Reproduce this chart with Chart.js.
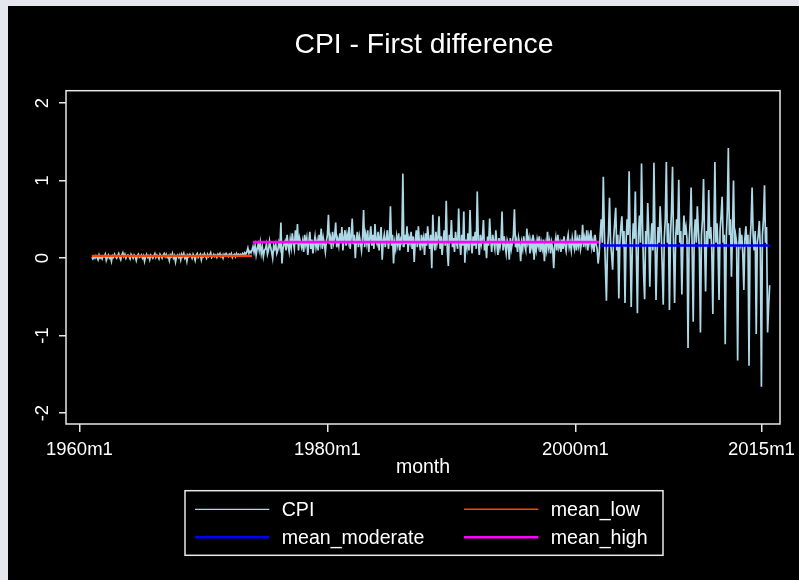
<!DOCTYPE html>
<html>
<head>
<meta charset="utf-8">
<script src="https://cdn.jsdelivr.net/npm/chart.js"></script>
<style>
  html, body { margin: 0; padding: 0; background: #e6e6ef; }
  #wrap { position: absolute; left: 8px; top: 6px; width: 791px; height: 574px; background: #000; }
</style>
</head>
<body>
<div id="wrap"><canvas id="cpiChart" width="791" height="574"></canvas></div>
<script>
// monthly first difference of CPI, one row per year, starting 1961m1
const firstMonth = '1961m1';
const cpiDiff = [
  0.01, -0.01, 0.02, 0.0, 0.03, 0.01, -0.02, 0.04, 0.0, 0.02, -0.01, 0.03,
  0.02, 0.05, -0.03, 0.01, 0.04, 0.0, 0.02, -0.04, 0.03, 0.01, 0.05, 0.02,
  0.0, 0.03, 0.06, 0.01, -0.02, 0.04, 0.07, 0.02, 0.05, 0.0, 0.03, 0.04,
  0.02, -0.01, 0.05, 0.03, 0.0, 0.04, 0.02, -0.03, 0.03, 0.05, 0.01, 0.02,
  0.04, 0.0, 0.03, -0.04, 0.02, 0.05, 0.01, 0.03, -0.02, 0.04, 0.02, 0.0,
  0.03, 0.06, 0.01, 0.04, 0.02, -0.01, 0.05, 0.03, 0.0, 0.04, 0.06, 0.02,
  0.05, 0.01, 0.03, -0.03, 0.04, 0.02, 0.06, 0.0, 0.03, -0.05, 0.02, 0.04,
  0.01, 0.04, -0.02, 0.05, 0.02, 0.06, 0.0, 0.03, -0.04, 0.04, 0.02, 0.05,
  0.03, 0.0, 0.05, 0.02, -0.03, 0.04, 0.06, 0.01, 0.03, 0.05, -0.02, 0.04,
  0.02, 0.06, 0.03, 0.0, 0.05, 0.02, 0.04, 0.07, 0.01, 0.03, 0.05, 0.02,
  0.04, 0.01, 0.05, 0.03, 0.06, 0.02, 0.04, 0.0, 0.05, 0.03, 0.06, 0.04,
  0.02, 0.05, 0.03, 0.06, 0.01, 0.04, 0.05, 0.02, 0.06, 0.03, 0.05, 0.04,
  0.05, 0.03, 0.06, 0.04, 0.07, 0.05, 0.08, 0.13, 0.06, 0.09, 0.07, 0.1,
  0.15, 0.08, 0.16, 0.04, 0.12, 0.18, 0.1, 0.2, 0.06, 0.14, 0.02, 0.1,
  0.12, 0.18, 0.05, 0.1, 0.22, 0.14, 0.08, 0.0, 0.16, 0.12, 0.18, 0.06,
  0.1, 0.2, 0.14, 0.46, -0.07, 0.12, 0.18, 0.22, 0.1, 0.3, 0.16, 0.08,
  0.24, 0.14, 0.32, 0.2, 0.12, 0.36, 0.18, 0.44, 0.1, 0.26, 0.2, 0.14,
  0.22, 0.08, 0.3, 0.18, 0.26, 0.04, 0.2, 0.34, 0.12, 0.24, 0.06, 0.18,
  0.28, 0.14, 0.22, 0.1, 0.3, 0.2, 0.38, 0.12, 0.26, 0.18, 0.08, 0.22,
  0.3, 0.56, 0.18, 0.26, 0.12, 0.34, 0.2, 0.28, 0.46, 0.14, 0.24, 0.16,
  0.32, 0.2, 0.4, 0.1, 0.26, 0.36, 0.16, 0.3, 0.22, 0.4, 0.12, 0.28,
  0.51, 0.18, 0.3, 0.0, 0.24, 0.34, 0.14, 0.28, 0.2, 0.1, 0.26, 0.62,
  0.14, 0.3, 0.2, 0.36, 0.08, 0.26, 0.41, 0.16, 0.3, 0.12, 0.44, 0.22,
  0.18, 0.34, 0.1, 0.28, 0.4, -0.02, 0.22, 0.3, 0.14, 0.26, 0.36, 0.12,
  0.24, 0.67, 0.16, 0.3, -0.07, 0.2, 0.12, 0.28, 0.18, 0.32, 0.1, 0.24,
  0.2, 1.09, 0.14, 0.3, 0.18, 0.41, 0.08, 0.26, 0.2, 0.34, 0.12, 0.28,
  -0.05, 0.22, 0.36, 0.14, 0.41, 0.2, 0.1, 0.3, 0.18, 0.26, 0.04, 0.32,
  0.16, 0.41, 0.24, 0.12, 0.3, -0.13, 0.56, 0.2, 0.1, 0.34, 0.18, 0.26,
  0.54, 0.12, 0.28, 0.04, 0.22, 0.36, 0.16, 0.74, 0.1, -0.1, 0.3, 0.2,
  0.49, 0.14, 0.26, 0.08, 0.34, 0.2, 0.12, 0.64, 0.22, 0.04, 0.3, 0.16,
  0.6, -0.06, 0.24, 0.14, 0.32, 0.1, 0.62, 0.2, 0.06, 0.28, 0.16, 0.34,
  0.12, 0.86, 0.22, 0.04, 0.3, 0.18, 0.26, 0.49, 0.1, 0.2, 0.0, 0.28,
  0.16, 0.51, 0.24, 0.08, 0.3, 0.2, 0.12, 0.36, 0.18, 0.04, 0.26, 0.14,
  0.22, 0.6, 0.1, 0.28, 0.16, 0.06, 0.23, 0.18, -0.02, 0.26, 0.12, 0.2,
  0.3, 0.63, 0.14, 0.22, 0.08, 0.26, 0.18, -0.04, 0.2, 0.12, 0.28, 0.16,
  0.1, 0.38, 0.2, 0.26, 0.06, 0.22, 0.14, 0.3, -0.02, 0.18, 0.1, 0.24,
  0.16, 0.28, 0.08, 0.2, 0.12, 0.24, -0.04, 0.18, 0.1, 0.34, 0.14, 0.22,
  0.06, 0.2, 0.12, -0.13, 0.16, 0.26, 0.1, 0.3, 0.14, 0.2, 0.08, 0.24,
  0.12, 0.28, 0.16, 0.09, 0.22, 0.3, 0.14, 0.2, 0.1, 0.26, 0.18, 0.12,
  0.36, 0.1, 0.24, 0.16, 0.3, 0.12, 0.2, 0.43, 0.14, 0.26, 0.18, 0.36,
  0.1, 0.28, 0.2, 0.36, 0.14, 0.22, 0.08, 0.3, 0.18, 0.12, -0.07, 0.06,
  0.3, 0.5, 0.2, 1.05, 0.35, -0.1, -0.55, 0.1, 0.3, 0.78, 0.2, 0.05,
  -0.15, 0.25, 0.45, 0.65, 0.1, 0.3, -0.52, 0.2, 0.4, 0.54, 0.15, 0.35,
  -0.58, 0.2, 0.5, 0.3, 1.12, 0.2, -0.63, 0.1, 0.45, 0.25, 0.86, 0.05,
  -0.71, 0.3, 0.55, 0.2, 1.22, 0.4, -0.2, -0.53, 0.35, 0.15, 0.71, 0.3,
  -0.37, 0.2, 0.45, 0.1, 1.23, 0.3, -0.54, 0.05, 0.4, 0.2, 0.67, 0.35,
  -0.1, -0.6, 0.25, 0.5, 1.24, 0.2, 0.45, -0.67, 0.3, 0.6, 1.18, 0.1,
  -0.58, 0.25, 0.5, 0.3, 1.01, 0.2, 0.35, -0.47, 0.15, 0.55, 0.3, 0.4,
  0.25, -1.16, 0.2, 0.45, 0.91, 0.1, -0.82, 0.3, 0.5, 0.2, 0.67, 0.35,
  0.1, -0.96, 0.3, 0.5, 1.02, 0.2, -0.43, 0.35, 0.15, 0.88, 0.25, 0.4,
  0.1, -0.72, 0.3, 1.24, 0.2, 0.45, 0.15, -0.54, 0.35, 0.55, 0.79, 0.2,
  0.3, -1.11, 0.25, 0.6, 1.42, 0.3, 0.5, -0.24, 0.35, 1.0, 0.15, 0.3,
  0.2, -1.32, 0.1, 0.39, 0.2, 0.3, 0.05, -0.41, 0.25, 0.41, 0.15, 0.3,
  -1.39, 0.2, 0.45, 0.91, 0.3, 0.1, 0.35, -0.98, 0.2, 0.3, 0.48, 0.1,
  -1.66, 0.3, 0.5, 0.94, 0.2, 0.4, -0.96, -0.62, -0.35
];

// regime means and the months they cover
const meanLabels = ['mean_low', 'mean_moderate', 'mean_high'];
const meanValues = [0.03, 0.162, 0.206];
const meanFrom = ['1961m1', '2002m1', '1974m1'];
const meanTo = ['1973m12', '2015m9', '2001m12'];

const xTickLabels = ['1960m1', '1980m1', '2000m1', '2015m1'];
const yTickValues = [-2, -1, 0, 1, 2];

const colors = {
  CPI: '#add8e6',
  mean_low: '#ff4500',
  mean_moderate: '#0000ff',
  mean_high: '#ff00ff'
};
const widths = { CPI: 1.7, mean_low: 2.2, mean_moderate: 2.6, mean_high: 2.6 };
const legendOrder = ['CPI', 'mean_low', 'mean_moderate', 'mean_high'];

const FONT = "'Liberation Sans', Arial, sans-serif";
const FG = '#ffffff';
const FRAME = '#e8e8e8';

function monthIndex(s) {
  const parts = s.split('m').map(Number);
  return (parts[0] - 1960) * 12 + parts[1] - 1;
}

const start = monthIndex(firstMonth);
const datasets = [{
  label: 'CPI',
  data: cpiDiff.map((v, i) => ({ x: start + i, y: v })),
  borderColor: colors.CPI,
  borderWidth: widths.CPI,
  order: 1
}];
meanLabels.forEach((name, i) => {
  datasets.push({
    label: name,
    data: [
      { x: monthIndex(meanFrom[i]), y: meanValues[i] },
      { x: monthIndex(meanTo[i]), y: meanValues[i] }
    ],
    borderColor: colors[name],
    borderWidth: widths[name],
    order: 0
  });
});

// title, plot frame and the boxed two-column legend
const decorations = {
  id: 'decorations',
  afterDatasetsDraw(chart) {
    const { ctx, chartArea: a } = chart;
    ctx.save();
    ctx.strokeStyle = FRAME;
    ctx.lineWidth = 1.5;
    ctx.strokeRect(a.left, a.top, a.right - a.left, a.bottom - a.top);
    ctx.restore();
  },
  afterDraw(chart) {
    const ctx = chart.ctx;
    ctx.save();
    ctx.fillStyle = FG;
    ctx.font = '28.3px ' + FONT;
    ctx.textAlign = 'center';
    ctx.textBaseline = 'alphabetic';
    ctx.fillText('CPI - First difference', 416, 46.5);

    // legend box
    ctx.strokeStyle = FRAME;
    ctx.lineWidth = 1.5;
    ctx.strokeRect(177, 484.7, 478, 64.6);
    ctx.font = '19.6px ' + FONT;
    ctx.textAlign = 'left';
    ctx.textBaseline = 'middle';
    const cols = [187, 456];
    const rows = [503.3, 531.3];
    legendOrder.forEach((name, i) => {
      const x = cols[i % 2];
      const y = rows[Math.floor(i / 2)];
      ctx.strokeStyle = colors[name];
      ctx.lineWidth = name === 'CPI' ? 1.2 : (name === 'mean_low' ? 1.5 : 2.6);
      ctx.beginPath();
      ctx.moveTo(x, y);
      ctx.lineTo(x + 74.3, y);
      ctx.stroke();
      ctx.fillStyle = FG;
      ctx.fillText(name, x + 86.7, y + 1);
    });
    ctx.restore();
  }
};

const ctx = document.getElementById('cpiChart').getContext('2d');
const cpiChart = new Chart(ctx, {
  type: 'line',
  data: { datasets: datasets },
  options: {
    responsive: false,
    animation: false,
    devicePixelRatio: 1,
    layout: { padding: { left: 0, right: 19, top: 84.7, bottom: 100.2 } },
    elements: {
      point: { radius: 0 },
      line: { tension: 0, fill: false }
    },
    plugins: {
      legend: { display: false },
      title: { display: false },
      tooltip: { enabled: false }
    },
    scales: {
      x: {
        type: 'linear',
        min: -13,
        max: 678,
        afterBuildTicks: (scale) => {
          scale.ticks = xTickLabels.map(l => ({ value: monthIndex(l) }));
        },
        afterFit: (scale) => {
          scale.height = 55.8;
          scale.paddingLeft = 0;
          scale.paddingRight = 0;
        },
        ticks: {
          color: FG,
          font: { family: FONT, size: 18.5 },
          padding: 7,
          maxRotation: 0,
          autoSkip: false,
          callback: (v, i) => xTickLabels[i]
        },
        grid: { drawOnChartArea: false, color: FRAME, lineWidth: 1.5, tickLength: 8 },
        border: { display: false },
        title: {
          display: true,
          text: 'month',
          color: FG,
          font: { family: FONT, size: 19.5 },
          padding: 0
        }
      },
      y: {
        min: -2.14,
        max: 2.16,
        afterBuildTicks: (scale) => {
          scale.ticks = yTickValues.map(v => ({ value: v }));
        },
        afterFit: (scale) => {
          scale.width = 58;
          scale.paddingTop = 0;
          scale.paddingBottom = 0;
        },
        ticks: {
          color: FG,
          font: { family: FONT, size: 18.5 },
          padding: 7.8,
          minRotation: 90,
          maxRotation: 90,
          crossAlign: 'center',
          callback: (v) => String(v)
        },
        grid: { drawOnChartArea: false, color: FRAME, lineWidth: 1.5, tickLength: 7 },
        border: { display: false }
      }
    }
  },
  plugins: [decorations]
});
</script>
</body>
</html>
